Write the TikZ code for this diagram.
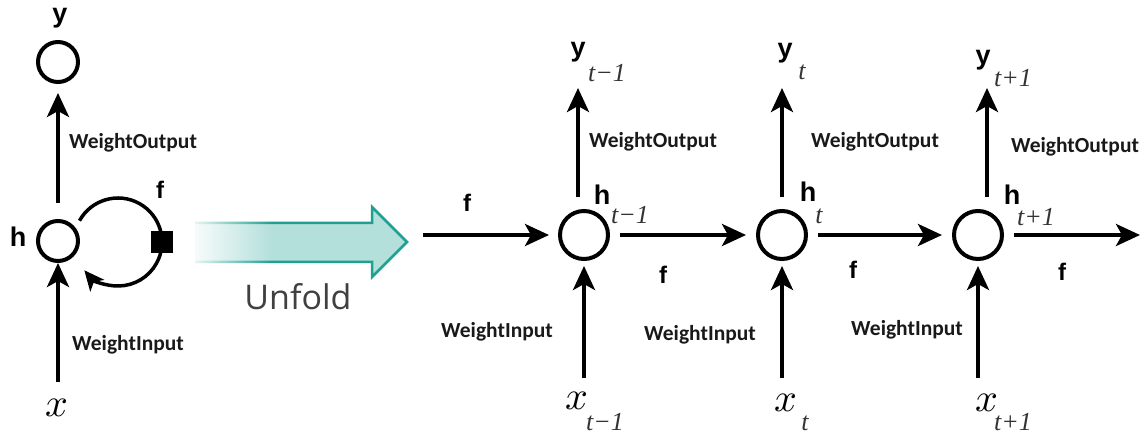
\documentclass[tikz,border=0pt]{standalone}
\usepackage{fontspec}
\setmainfont{Liberation Serif}
\newfontfamily\carl{Carlito}
\newfontfamily\arl{Liberation Sans}
\newfontfamily\opens{Open Sans}
\newfontfamily\lmm{latinmodern-math.otf}
\usetikzlibrary{arrows.meta,fadings}
\definecolor{tealline}{HTML}{1FA090}
\definecolor{tealfill}{HTML}{B4E0DC}
\begin{document}
\begin{tikzpicture}[x=1pt,y=1pt,
  unit/.style={circle,draw,line width=4pt,minimum size=48pt,inner sep=0pt},
  arr/.style={line width=4pt,-{Stealth[length=24pt,width=22pt,inset=6pt]}},
  wlab/.style={font=\carl\bfseries\fontsize{21.5}{24}\selectfont,inner sep=0pt,text=black!90},
  blab/.style={font=\arl\bfseries\fontsize{27}{30}\selectfont,inner sep=0pt},
  flab/.style={font=\arl\bfseries\fontsize{24}{28}\selectfont,inner sep=0pt},
  sublab/.style={font=\itshape\fontsize{26}{28}\selectfont,inner sep=0pt,text=black!80},
  xlab/.style={font=\lmm\fontsize{40}{40}\selectfont,inner sep=0pt},
]
\useasboundingbox (0,0) rectangle (1145,434);

% ---------- folded network ----------
\node[unit,minimum size=40pt] (y) at (58,372) {};
\node[unit,minimum size=40pt] (h) at (58,193) {};
\node[blab] (ylab) at (60,416) {y};
\node[blab] (hlab) at (18,197) {h};
\node[xlab] (x) at (57,26) {𝑥};
\coordinate (xin) at (58,52);
\draw[arr] (xin) -- (h.south);
\draw[arr,shorten >=9pt] ([yshift=16pt]h.north) -- (y.south);
\node[wlab] (wo0) at (133,291) {WeightOutput};
\node[wlab] (wi0) at (128,89) {WeightInput};
\coordinate (lc) at (118,192);
\draw[line width=3.5pt,-{Stealth[length=20pt,width=18pt,inset=5pt]}]
  ([shift={(151:44)}]lc) arc[start angle=151,end angle=-140,radius=44];
\node[fill=black,minimum size=22pt,inner sep=0pt] (sq) at (162,192) {};
\node[flab] (f0l) at (160,244) {f};

% ---------- unfold arrow ----------
\fill[tealfill] (195,172) -- (372,172) -- (372,157) -- (407,192) -- (372,227) -- (372,211) -- (195,211) -- cycle;
\draw[tealline,line width=2.5pt,line join=miter] (195,172) -- (372,172) -- (372,157) -- (407,192) -- (372,227) -- (372,211) -- (195,211);
\fill[white,path fading=east] (186,165) rectangle (272,218);
\node[font=\opens\fontsize{34}{36}\selectfont,text=black!75,inner sep=0pt] (unf) at (298,137) {Unfold};

% ---------- unfolded network ----------
\node[unit] (c1) at (584,199) {};
\node[unit] (c2) at (782,199) {};
\node[unit] (c3) at (978,199) {};
\coordinate (hin) at (423,199);
\coordinate (hout) at (1140,199);
\draw[arr,shorten >=9pt] (hin) -- (c1);
\draw[arr,shorten <=10pt,shorten >=10pt] (c1) -- (c2);
\draw[arr,shorten <=10pt,shorten >=10pt] (c2) -- (c3);
\draw[arr,shorten <=10pt] (c3) -- (hout);

\coordinate (o1) at (578,346);
\coordinate (o2) at (782,346);
\coordinate (o3) at (987,346);
\draw[arr] ([xshift=-6pt,yshift=12pt]c1.north) -- (o1);
\draw[arr] ([yshift=12pt]c2.north) -- (o2);
\draw[arr] ([xshift=9pt,yshift=12pt]c3.north) -- (o3);

\coordinate (i1) at (584,56);
\coordinate (i2) at (782,56);
\coordinate (i3) at (978,56);
\draw[arr,shorten >=5pt] (i1) -- (c1.south);
\draw[arr,shorten >=5pt] (i2) -- (c2.south);
\draw[arr,shorten >=5pt] (i3) -- (c3.south);

% labels
\node[flab] (f1) at (467,231) {f};
\node[flab] (f2) at (663,159) {f};
\node[flab] (f3) at (853,164) {f};
\node[flab] (f4) at (1062,162) {f};

\node[wlab] (wo1) at (653,292) {WeightOutput};
\node[wlab] (wo2) at (875,292) {WeightOutput};
\node[wlab] (wo3) at (1075,287) {WeightOutput};
\node[wlab] (wi1) at (497,102) {WeightInput};
\node[wlab] (wi2) at (700,99) {WeightInput};
\node[wlab] (wi3) at (907,104) {WeightInput};

\node[blab] (h1) at (602,239) {h};
\node[sublab] (h1s) at (630,219) {t−1};
\node[blab] (h2) at (808,242) {h};
\node[sublab] (h2s) at (819,218) {t};
\node[blab] (h3) at (1012,239) {h};
\node[sublab] (h3s) at (1036,217) {t+1};

\node[blab] (y1) at (578,382) {y};
\node[sublab] (y1s) at (607,361) {t−1};
\node[blab] (y2) at (785,381) {y};
\node[sublab] (y2s) at (802,362) {t};
\node[blab] (y3) at (983,374) {y};
\node[sublab] (y3s) at (1013,356) {t+1};

\node[xlab] (x1) at (577,33) {𝑥};
\node[sublab] (x1s) at (605,12) {t−1};
\node[xlab] (x2) at (786,31) {𝑥};
\node[sublab] (x2s) at (805,11) {t};
\node[xlab] (x3) at (987,31) {𝑥};
\node[sublab] (x3s) at (1013,12) {t+1};
\end{tikzpicture}
\end{document}
